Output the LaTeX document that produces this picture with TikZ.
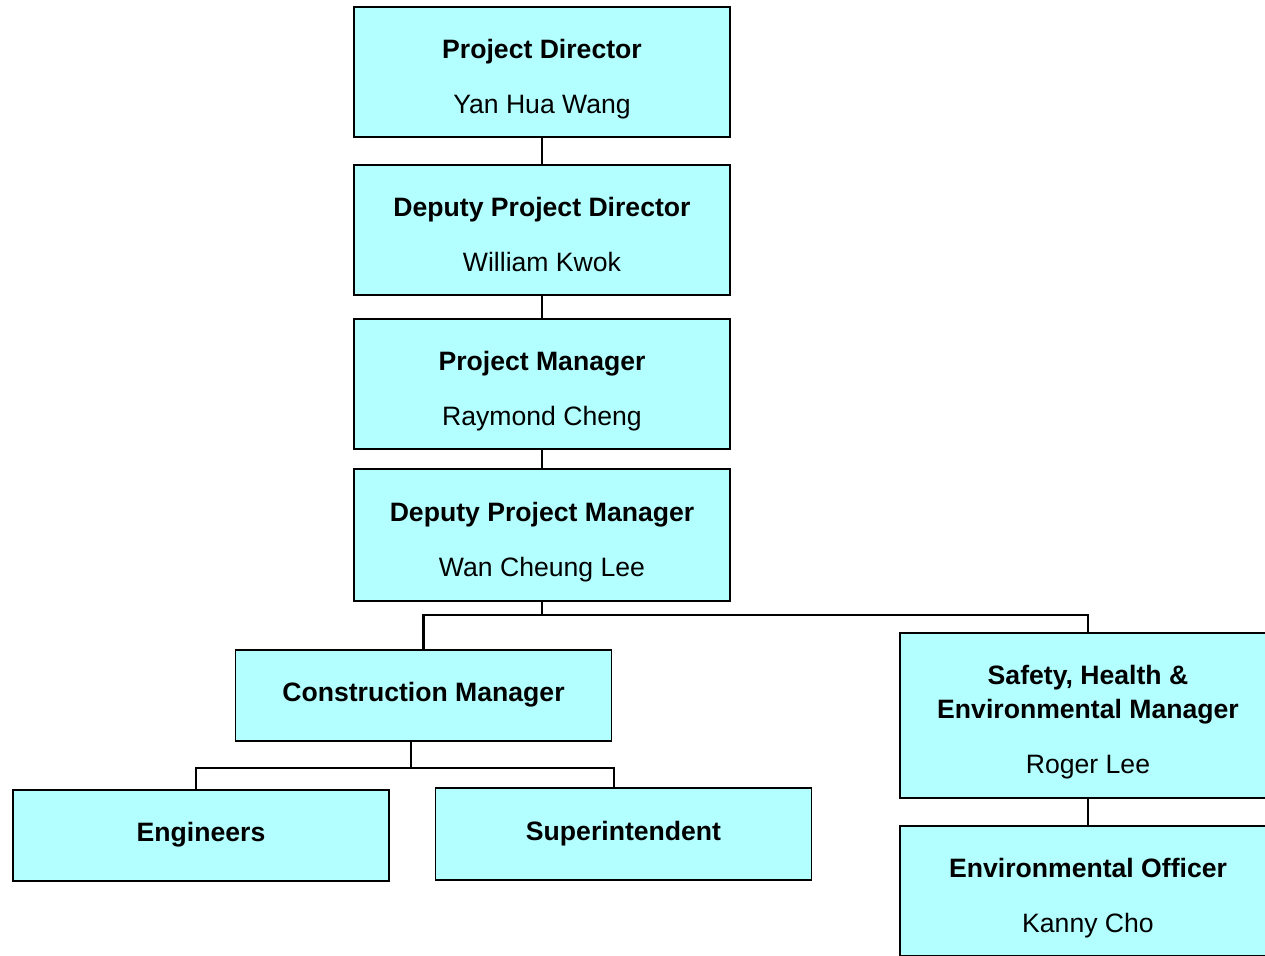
\documentclass[tikz,border=0pt]{standalone}
\usepackage{fontspec}
\setmainfont{Liberation Sans}
\definecolor{boxcyan}{HTML}{B3FFFF}
\newcommand{\tstrut}[1]{\rule{0pt}{#1pt}}
\newcommand{\bstrut}{\rule[-8pt]{0pt}{0pt}}
\tikzset{
  box/.style={draw=black, line width=1.6pt, fill=boxcyan, minimum width=376pt,
    minimum height=130pt, inner sep=0pt, align=center,
    font=\fontsize{26.6}{55}\selectfont},
  smallbox/.style={box, minimum height=91pt},
  link/.style={draw=black, line width=2.2pt}
}

\begin{document}
\begin{tikzpicture}[x=1pt, y=-1pt]
			%%%%% FRAME %%%%%
			\useasboundingbox (0,0) rectangle (1265,955);
			\clip (0,0) rectangle (1265,955);
			
			%%%%% BOXES %%%%%
			\node[box] (pd)  at (542,72)  {\tstrut{36.7}\textbf{Project Director}\\ Yan Hua Wang\bstrut};
			\node[box] (dpd) at (542,230) {\tstrut{36.7}\textbf{Deputy Project Director}\\ William Kwok\bstrut};
			\node[box] (pm)  at (542,384) {\tstrut{36.7}\textbf{Project Manager}\\ Raymond Cheng\bstrut};
			\node[box, minimum height=132pt] (dpm) at (542,535) {\tstrut{36.7}\textbf{Deputy Project Manager}\\ Wan Cheung Lee\bstrut};
			
			\node[smallbox] (cm)  at (423.5,695.5) {\tstrut{20.7}\textbf{Construction Manager}\bstrut};
			\node[smallbox] (eng) at (201,835.5)   {\tstrut{20.7}\textbf{Engineers}\bstrut};
			\node[smallbox, minimum height=92pt] (sup) at (623.5,834) {\tstrut{20.7}\textbf{Superintendent}\bstrut};
			
			\node[box, minimum height=165pt] (she) at (1088,715.5) {\tstrut{35.7}\textbf{Safety, Health \&}\\[-21pt] \textbf{Environmental Manager}\\ Roger Lee\bstrut};
			\node[box] (eo) at (1088,891) {\tstrut{36.7}\textbf{Environmental Officer}\\ Kanny Cho\bstrut};
			
			%%%%% LINKS %%%%%
			\coordinate (forkA) at (542,615);
			\coordinate (forkB) at (411,768);
			
			\draw[link] (pd) -- (dpd);
			\draw[link] (dpd) -- (pm);
			\draw[link] (pm) -- (dpm);
			\draw[link] (dpm) -- (forkA);
			\draw[link] (cm.north) |- (forkA) -| (she.north);
			\draw[link] (forkB |- cm.south) -- (forkB);
			\draw[link] ([xshift=-5pt]eng.north) |- (forkB) -| ([xshift=-9.5pt]sup.north);
			\draw[link] (she) -- (eo);
			
			%%%%% END %%%%%
		\end{tikzpicture}
\end{document}
